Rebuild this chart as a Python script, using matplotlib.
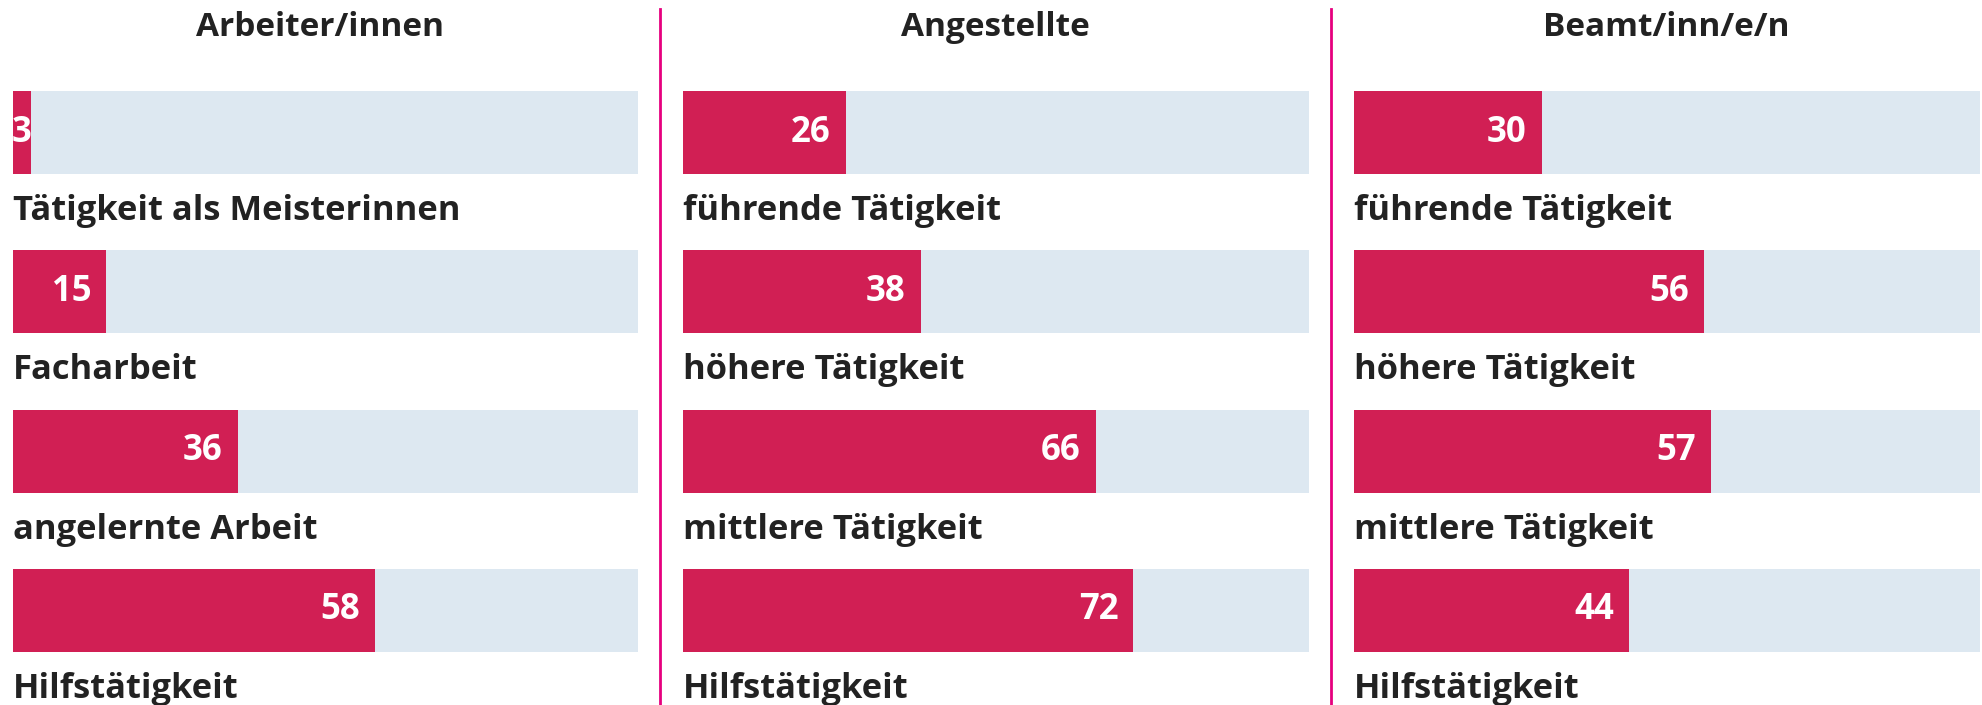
import matplotlib.pyplot as plt

# groups and their categories / shares (%)
groups = ["Arbeiter/innen", "Angestellte", "Beamt/inn/e/n"]
cats_arbeiter = ["Tätigkeit als Meisterinnen", "Facharbeit", "angelernte Arbeit", "Hilfstätigkeit"]
cats_angestellte = ["führende Tätigkeit", "höhere Tätigkeit", "mittlere Tätigkeit", "Hilfstätigkeit"]
cats_beamte = ["führende Tätigkeit", "höhere Tätigkeit", "mittlere Tätigkeit", "Hilfstätigkeit"]
vals_arbeiter = [3, 15, 36, 58]
vals_angestellte = [26, 38, 66, 72]
vals_beamte = [30, 56, 57, 44]

all_cats = [cats_arbeiter, cats_angestellte, cats_beamte]
all_vals = [vals_arbeiter, vals_angestellte, vals_beamte]

BAR = "#d11f54"
BG = "#dde8f1"
LINE = "#e6007e"
TXT = "#222222"

plt.rcParams["font.family"] = ["Open Sans", "DejaVu Sans"]

W, H = 1982, 705
fig = plt.figure(figsize=(W / 100, H / 100), dpi=100)

panel_left = [12.6, 683, 1354]
panel_w = 625.5
row0 = 132.5
step = 159.3
bar_h = 83
title_shift = [-0.9, 0, 0]  # first title sits a bit left of centre

for k in range(3):
    ax = fig.add_axes([panel_left[k] / W, 0, panel_w / W, 1])
    ax.set_xlim(0, 100)
    ax.set_ylim(H, 0)
    ax.axis("off")
    bg_end = 100 if k < 2 else 101
    for i, (c, v) in enumerate(zip(all_cats[k], all_vals[k])):
        yc = row0 + i * step
        ax.barh(yc, bg_end, height=bar_h, color=BG, left=0)
        ax.barh(yc, v, height=bar_h, color=BAR, left=0)
        if v < 10:
            ax.text(-0.2, yc, str(v), ha="left", va="center", color="white",
                    fontsize=25, fontweight="bold")
        else:
            ax.text(v - 2.4, yc, str(v), ha="right", va="center", color="white",
                    fontsize=25, fontweight="bold")
        ax.text(0, yc + 78.5, c, ha="left", va="center", color=TXT,
                fontsize=24.8, fontweight="bold", clip_on=False)
    ax.text(50 + title_shift[k], 27, groups[k], ha="center", va="center", color=TXT,
            fontsize=24, fontweight="bold")

# vertical dividers between panels
for xd in [660, 1331]:
    fig.add_artist(plt.Line2D([xd / W, xd / W], [0, 1 - 9 / H], color=LINE, lw=2))

fig.savefig("out.png", dpi=100)
